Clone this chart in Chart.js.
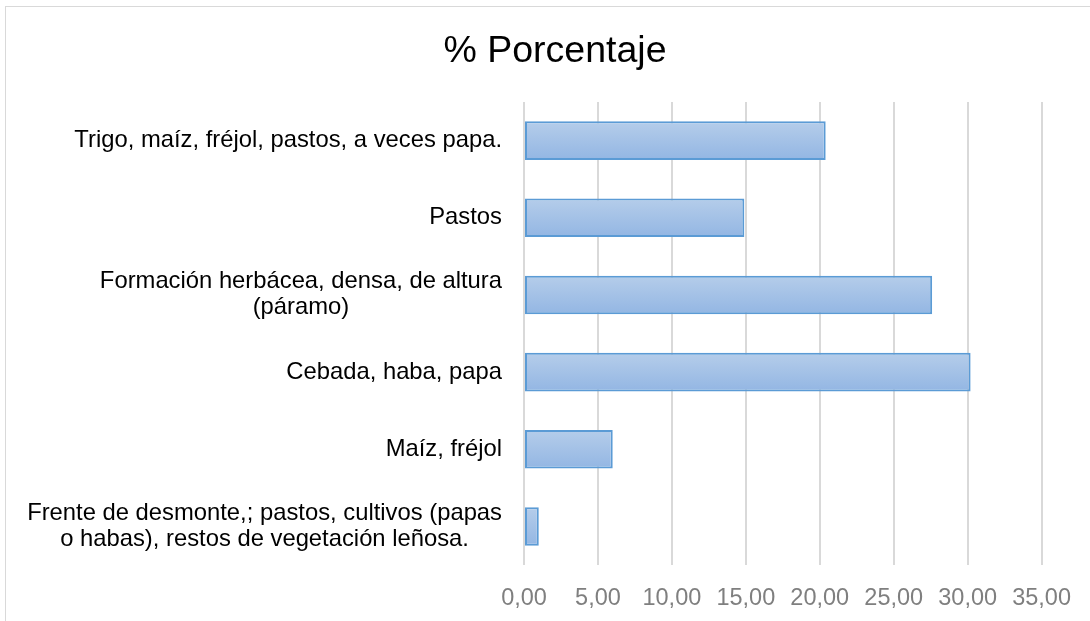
<!DOCTYPE html>
<html>
<head>
<meta charset="utf-8">
<script src="https://cdn.jsdelivr.net/npm/chart.js@4.4.1/dist/chart.umd.min.js"></script>
<style>
  html, body { margin: 0; padding: 0; background: #fff; overflow: hidden; }
  #frame { position: absolute; left: 5px; top: 6px; width: 1200px; height: 800px; border: 1px solid #d9d9d9; }
  #wrap { position: absolute; left: 0; top: 0; width: 1090px; height: 621px; }
</style>
</head>
<body>
<div id="frame"></div>
<div id="wrap"><canvas id="chart"></canvas></div>
<script>
var categories = [
	['Trigo, maíz, fréjol, pastos, a veces papa.'],
	['Pastos'],
	['Formación herbácea, densa, de altura', '(páramo)'],
	['Cebada, haba, papa'],
	['Maíz, fréjol'],
	['Frente de desmonte,; pastos, cultivos (papas', 'o habas), restos de vegetación leñosa.']
];
var porcentaje = [20.4, 14.9, 27.6, 30.2, 6.0, 1.0];
var xTicks = [0, 5, 10, 15, 20, 25, 30, 35];

var fontFamily = '"Liberation Sans", Arial, sans-serif';

// draw the category labels right aligned as a block, lines centred inside it
var yLabels = {
	id: 'yLabels',
	afterDraw: function(chart) {
		var c = chart.ctx;
		var scale = chart.scales.y;
		c.save();
		c.font = '23.8px ' + fontFamily;
		c.fillStyle = '#000000';
		c.textAlign = 'center';
		c.textBaseline = 'middle';
		categories.forEach(function(lines, i) {
			var yc = scale.getPixelForTick(i);
			var widest = 0;
			lines.forEach(function(l) { widest = Math.max(widest, c.measureText(l).width); });
			var x = 502 - widest / 2;
			lines.forEach(function(l, j) {
				c.fillText(l, x, yc + (j - (lines.length - 1) / 2) * 26);
			});
		});
		c.restore();
	}
};

function barFill(context) {
	var chart = context.chart;
	if (!chart.chartArea || !chart.scales.y) return '#a3c1e7';
	var scale = chart.scales.y;
	var yc = scale.getPixelForValue(context.dataIndex);
	var half = (chart.chartArea.bottom - chart.chartArea.top) / categories.length * 0.25;
	var g = chart.ctx.createLinearGradient(0, yc - half, 0, yc + half);
	g.addColorStop(0, '#b5cdea');
	g.addColorStop(1, '#93b6e3');
	return g;
}

var ctx = document.getElementById('chart');
new Chart(ctx, {
	type: 'bar',
	plugins: [yLabels],
	data: {
		labels: categories,
		datasets: [{
			label: '% Porcentaje',
			data: porcentaje,
			backgroundColor: barFill,
			borderColor: '#5b9bd5',
			borderWidth: 2,
			borderSkipped: false,
			barPercentage: 0.5,
			categoryPercentage: 1.0
		}]
	},
	options: {
		indexAxis: 'y',
		responsive: true,
		maintainAspectRatio: false,
		animation: false,
		layout: {
			padding: { left: 68, right: 48, top: 0, bottom: 0 }
		},
		plugins: {
			legend: { display: false },
			tooltip: { enabled: false },
			title: {
				display: true,
				text: '% Porcentaje',
				color: '#000000',
				font: { family: fontFamily, size: 37.5, weight: 'normal', lineHeight: 1.2 },
				padding: { top: 29, bottom: 28 }
			}
		},
		scales: {
			x: {
				min: 0,
				max: 35,
				afterBuildTicks: function(scale) {
					scale.ticks = xTicks.map(function(v) { return { value: v }; });
				},
				afterFit: function(scale) {
					scale.height = 56;
				},
				grid: { color: '#d9d9d9', lineWidth: 2, drawTicks: false },
				border: { display: false },
				ticks: {
					padding: 19,
					color: '#7f7f7f',
					font: { family: fontFamily, size: 23.5 },
					callback: function(value) {
						return Number(value).toFixed(2).replace('.', ',');
					}
				}
			},
			y: {
				grid: { display: false },
				border: { display: false },
				ticks: { display: false },
				afterFit: function(scale) {
					scale.width = 524 - 68;
				}
			}
		}
	}
});
</script>
</body>
</html>
